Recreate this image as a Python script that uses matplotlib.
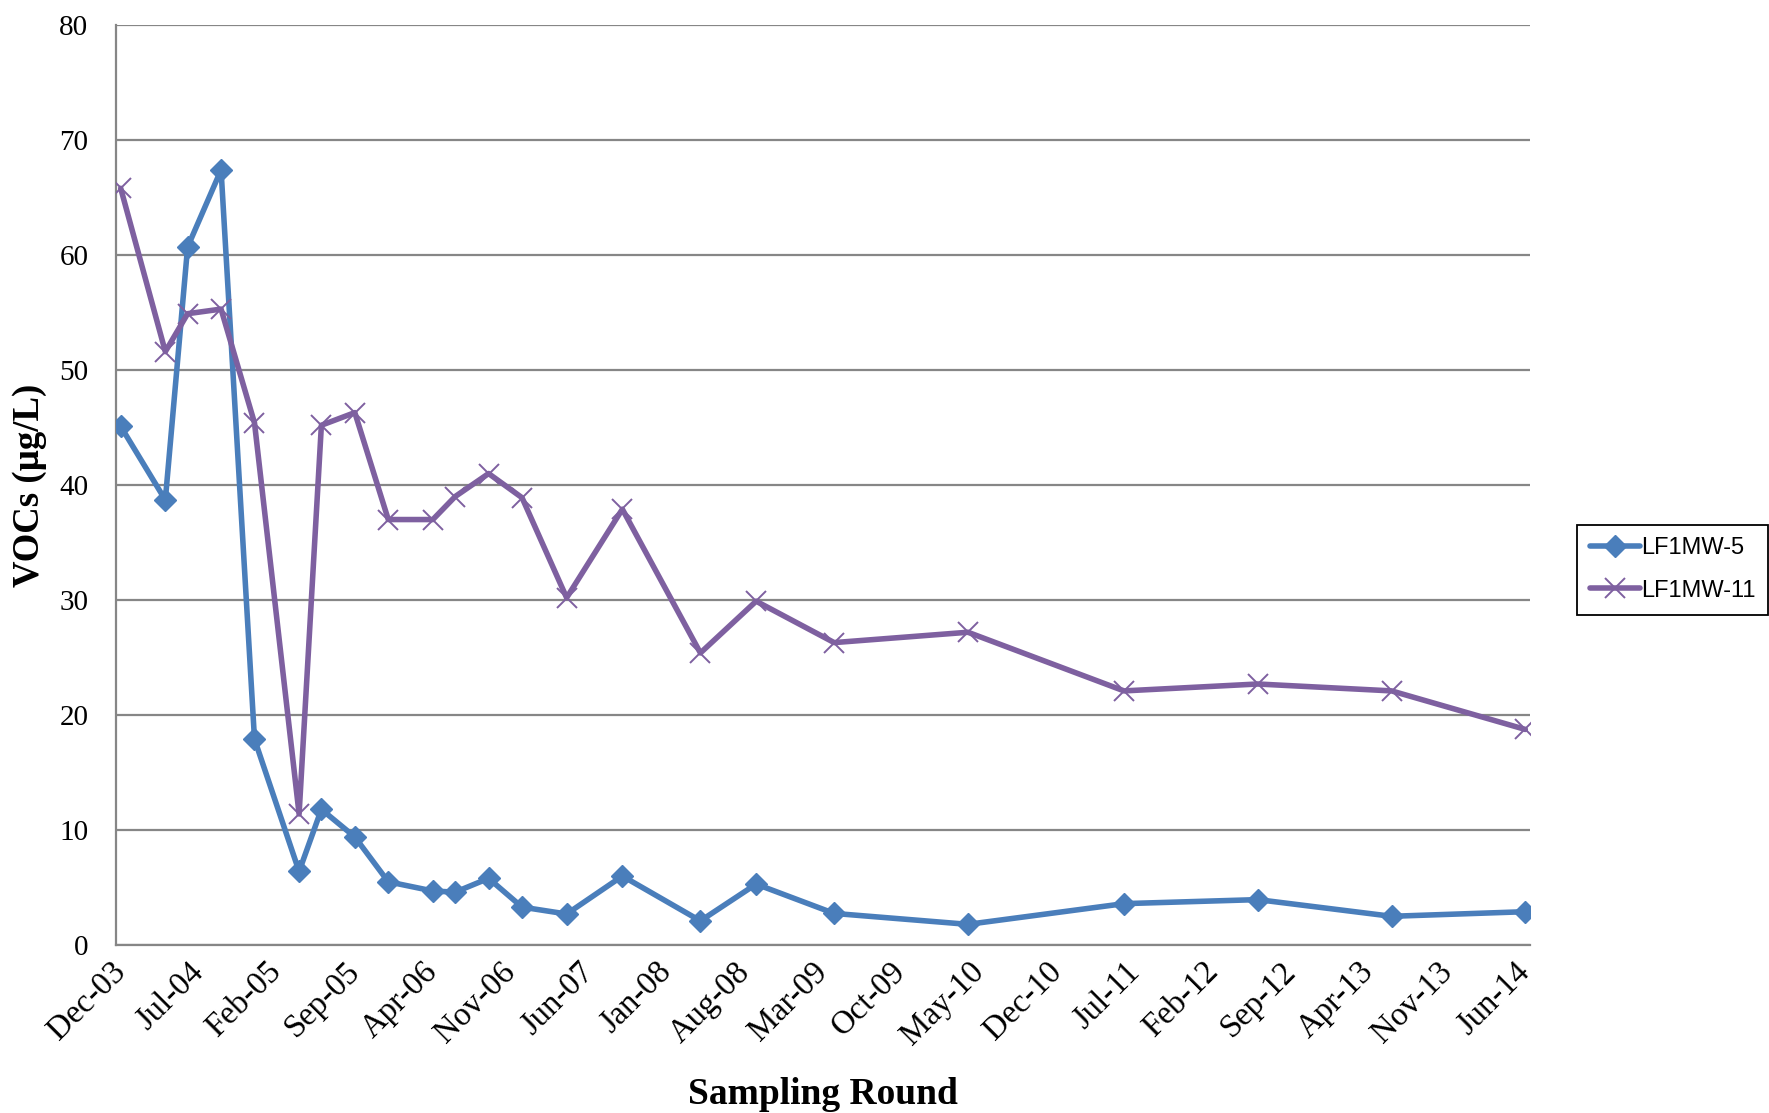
import matplotlib
matplotlib.use("Agg")
import matplotlib.pyplot as plt

# sampling rounds (month-year) and VOC results in ug/L
sample_dates = ["Dec-03", "Apr-04", "Jun-04", "Sep-04", "Dec-04", "Apr-05", "Jun-05",
                "Sep-05", "Dec-05", "Apr-06", "Jun-06", "Sep-06", "Dec-06", "Apr-07",
                "Sep-07", "Apr-08", "Sep-08", "Apr-09", "Apr-10", "Jun-11", "Jun-12",
                "Jun-13", "Jun-14"]
mw5 = [45.1, 38.7, 60.7, 67.4, 17.9, 6.4, 11.8, 9.4, 5.5, 4.7, 4.6, 5.8, 3.3, 2.7,
       6.0, 2.1, 5.3, 2.75, 1.8, 3.6, 3.95, 2.5, 2.9]
mw11 = [65.8, 51.6, 54.9, 55.3, 45.4, 11.4, 45.2, 46.3, 37.0, 37.0, 39.0, 41.0, 38.9,
        30.2, 37.9, 25.4, 29.9, 26.3, 27.2, 22.1, 22.7, 22.1, 18.75]
tick_labels = ["Dec-03", "Jul-04", "Feb-05", "Sep-05", "Apr-06", "Nov-06", "Jun-07",
               "Jan-08", "Aug-08", "Mar-09", "Oct-09", "May-10", "Dec-10", "Jul-11",
               "Feb-12", "Sep-12", "Apr-13", "Nov-13", "Jun-14"]

MONTHS = ["Jan", "Feb", "Mar", "Apr", "May", "Jun", "Jul", "Aug", "Sep", "Oct", "Nov", "Dec"]


def month_index(label):
    # months elapsed since Dec-03
    mon, yr = label.split("-")
    return (int(yr) - 3) * 12 + MONTHS.index(mon) - 11


x = [month_index(d) for d in sample_dates]
ticks = [month_index(t) for t in tick_labels]

plt.rcParams["font.family"] = ["Liberation Serif", "DejaVu Serif"]

fig = plt.figure(figsize=(17.69, 11.13), dpi=100)
ax = fig.add_axes([0.0656, 0.1509, 0.7993, 0.8266])

grid_col = "#868686"
ax.plot(x, mw5, color="#4A7EBB", lw=4, marker="D", ms=11, label="LF1MW-5",
        solid_joinstyle="round", solid_capstyle="round", zorder=3)
ax.plot(x, mw11, color="#7E60A0", lw=4, marker="x", ms=15, mew=1.4, label="LF1MW-11",
        solid_joinstyle="round", solid_capstyle="round", zorder=4)

ax.set_xlim(-0.42, 126.42)
ax.set_ylim(0, 80)
ax.set_yticks(range(0, 81, 10))
ax.set_xticks(ticks)
ax.set_xticklabels(tick_labels, rotation=45, ha="right", va="center",
                   rotation_mode="anchor", fontsize=23.5)
ax.tick_params(axis="x", length=0, pad=16)
ax.tick_params(axis="y", length=0, pad=20, labelsize=21)

ax.grid(axis="y", color=grid_col, lw=1.6)
ax.set_axisbelow(True)
for s in ["top", "right"]:
    ax.spines[s].set_visible(False)
for s in ["left", "bottom"]:
    ax.spines[s].set_color(grid_col)
    ax.spines[s].set_linewidth(1.6)

ax.set_xlabel("Sampling Round", fontsize=27, fontweight="bold")
ax.xaxis.set_label_coords(0.5, -0.1435)
ax.set_ylabel("VOCs (µg/L)", fontsize=26.5, fontweight="bold")
ax.yaxis.set_label_coords(-0.0488, 0.5)

leg = fig.legend(loc="center left", bbox_to_anchor=(0.8915, 0.4883), borderaxespad=0,
                 frameon=True, fancybox=False, edgecolor="black", framealpha=1,
                 prop={"family": "Liberation Sans", "size": 17}, handlelength=2.1,
                 handletextpad=0.05, labelspacing=0.85, borderpad=0.55)
leg.get_frame().set_linewidth(1.3)

fig.savefig("out.png", dpi=100)
